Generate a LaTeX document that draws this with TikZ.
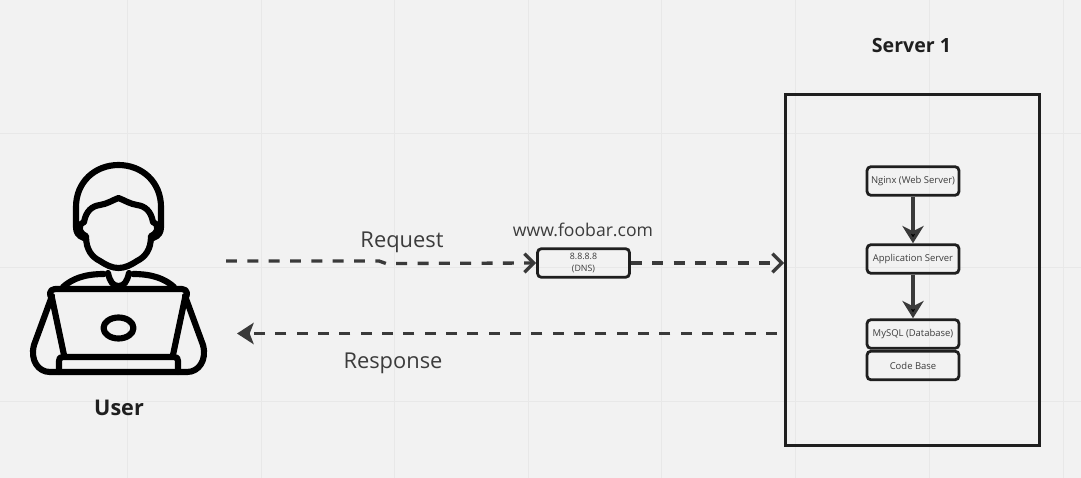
\documentclass[tikz,border=0pt]{standalone}
\usepackage{fontspec}
\setmainfont{Open Sans}
\usepackage{tikz}
\usetikzlibrary{arrows.meta,positioning}
\definecolor{paper}{HTML}{F2F2F2}
\definecolor{gridline}{HTML}{E8E8E8}
\definecolor{boxline}{HTML}{1F1F1F}
\definecolor{arrowline}{HTML}{3A3A3A}
\definecolor{labeltext}{HTML}{3C3C3C}
\tikzset{
  tier/.style={draw=boxline,line width=2.1pt,rounded corners=3pt,minimum width=69pt,minimum height=21.5pt,
    inner sep=0pt,align=center,text=labeltext,font=\fontsize{7.1}{10}\selectfont},
  flow/.style={draw=arrowline,line width=2.5pt,dash pattern=on 8.2pt off 7.8pt,shorten >=0pt},
  open/.style={-{Straight Barb[length=7pt,width=14pt,line width=2.5pt]}},
  solid tip/.style={draw=arrowline,line width=2.7pt,-{Stealth[length=13pt,width=16pt,inset=4pt]}},
  icon/.style={draw=black,line width=4.6pt,line cap=round,line join=round},
  caption/.style={text=labeltext,font=\fontsize{16.4}{19}\selectfont},
  heading/.style={text=boxline,font=\fontsize{14.7}{17}\selectfont\bfseries}
}
\begin{document}
\begin{tikzpicture}[x=0.75pt,y=-0.75pt]
  \path[use as bounding box,fill=paper] (0,0) rectangle (1081,478);
  % background grid
  \foreach \gx in {127,261,394,528,661,795,929,1063} \draw[gridline,line width=0.75pt] (\gx,0) -- (\gx,478);
  \foreach \gy in {133,267,401} \draw[gridline,line width=0.75pt] (0,\gy) -- (1081,\gy);

  % user
  \draw[icon] (84,238) .. controls (78,236) and (76,232) .. (76,227) -- (76,207)
    .. controls (76,182) and (95,165) .. (118.5,165) .. controls (142,165) and (161,182) .. (161,207)
    -- (161,227) .. controls (161,232) and (159,236) .. (153,238);
  \draw[icon] (84,222) .. controls (86,211) and (92,206) .. (100,205) .. controls (107,204) and (113,200) .. (118.5,198)
    .. controls (124,200) and (130,204) .. (137,205) .. controls (145,206) and (151,211) .. (153,222);
  \draw[icon] (84,222) .. controls (78,223) and (78,233) .. (86,236) .. controls (86,250) and (92,257) .. (100,261)
    .. controls (106,265) and (112,268) .. (118.5,268) .. controls (125,268) and (131,265) .. (137,261)
    .. controls (145,257) and (151,250) .. (151,236) .. controls (159,233) and (159,223) .. (153,222);
  \draw[icon] (108,273) .. controls (110,282) and (113,286) .. (118.5,286) .. controls (124,286) and (127,282) .. (129,273);
  \draw[icon] (63,287) .. controls (72,279) and (84,274) .. (104,274);
  \draw[icon] (174,287) .. controls (165,279) and (153,274) .. (133,274);
  \draw[icon] (55,289) -- (182,289) .. controls (188,289) and (188,296) .. (185,298) -- (173,355);
  \draw[icon] (55,289) .. controls (49,289) and (49,296) .. (52,298) -- (64,355);
  \draw[icon] (52,296) -- (34,345) .. controls (30,360) and (38,372) .. (50,372) -- (187,372)
    .. controls (199,372) and (207,360) .. (203,345) -- (185,296);
  \draw[icon] (59,372) -- (59,361) .. controls (59,358) and (60,357) .. (63,357) -- (174,357)
    .. controls (177,357) and (178,358) .. (178,361) -- (178,372);
  \draw[icon] (118.5,328) ellipse (15 and 10.5);
  \node[heading,font=\fontsize{16.2}{19}\selectfont\bfseries] (user) at (119,408) {User};

  % server
  \node[draw=boxline,line width=2.1pt,minimum width=190.5pt,minimum height=263.5pt,inner sep=0pt] (server) at (912.5,270) {};
  \node[heading] (servername) at (911.5,45.5) {Server 1};
  \node[tier] (nginx) at (913,181) {Nginx (Web Server)};
  \node[tier] (app) at (913,259) {Application Server};
  \node[tier] (mysql) at (913,334) {MySQL (Database)};
  \node[tier] (codebase) at (913,365.5) {Code Base};

  % dns
  \node[tier,font=\fontsize{6.6}{9.5}\selectfont] (dns) at (583.5,263) {8.8.8.8\\(DNS)};
  \node[caption,font=\fontsize{13.2}{16}\selectfont] (domain) at (583,230) {www.foobar.com};

  \coordinate (userout) at (226,261);
  \coordinate (userin) at (237,333.5);
  \coordinate (serverout) at (777,333.5);
  \coordinate (kinka) at (379,261);
  \coordinate (kinkb) at (386,263.5);
  \node[caption] (request) at (402,242) {Request};
  \node[caption] (response) at (393,363) {Response};

  \draw[flow,open] (userout) -- (kinka) -- (kinkb) -- (dns.west);
  \draw[flow,open] (dns.east) -- (server.west |- dns.east);
  \draw[flow,-{Stealth[length=12.5pt,width=16pt,inset=3pt]}] (serverout) -- (userin);
  \path[solid tip]
    (nginx) edge (app)
    (app) edge (mysql)
  ;
\end{tikzpicture}
\end{document}
